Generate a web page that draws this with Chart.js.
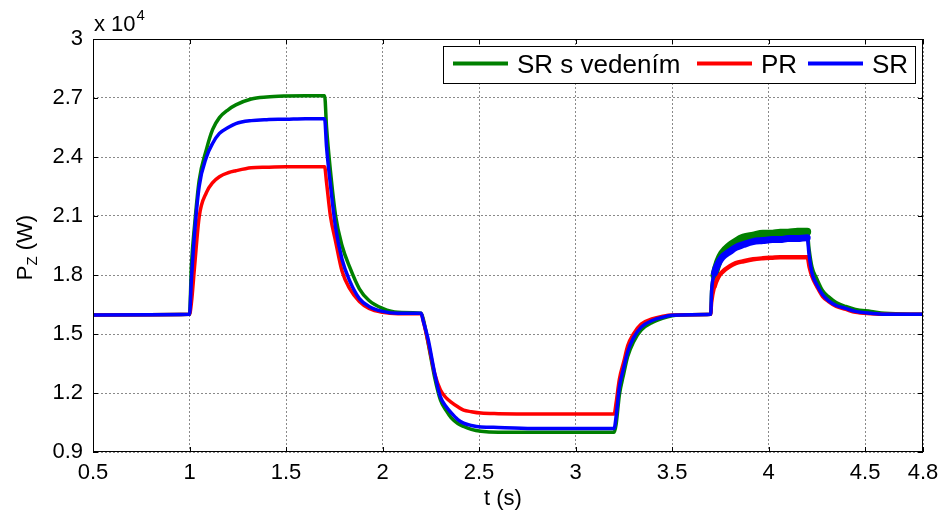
<!DOCTYPE html>
<html>
<head>
<meta charset="utf-8">
<script src="https://cdn.jsdelivr.net/npm/chart.js@4.4.1/dist/chart.umd.min.js"></script>
<style>
  html, body { margin: 0; padding: 0; background: #fff; }
  #wrap { width: 947px; height: 515px; }
</style>
</head>
<body>
<div id="wrap"><canvas id="graf" width="947" height="515"></canvas></div>
<script>
// cas (s) a vykon P_Z v jednotkach x 10^4 W
const cas = [0.5, 1.0, 1.01, 1.026, 1.05, 1.088, 1.12, 1.155, 1.2, 1.24, 1.32, 1.4, 1.5, 1.6, 1.7,
  1.71, 1.73, 1.757, 1.79, 1.83, 1.88, 1.93, 2.0, 2.08, 2.2,
  2.21, 2.237, 2.27, 2.30, 2.33, 2.355, 2.39, 2.42, 2.46, 2.51, 2.6, 2.8, 3.0, 3.2,
  3.21, 3.227, 3.25, 3.27, 3.3, 3.34, 3.4, 3.45, 3.5, 3.6, 3.7,
  3.705, 3.72, 3.74, 3.76, 3.8, 3.83, 3.87, 3.92, 3.97, 4.02, 4.06, 4.1, 4.15, 4.2,
  4.21, 4.225, 4.25, 4.28, 4.31, 4.35, 4.4, 4.45, 4.53, 4.6, 4.8];

const srVedeni = [1.597, 1.60, 1.85, 2.05, 2.28, 2.44, 2.54, 2.60, 2.64, 2.665, 2.695, 2.705, 2.71, 2.712, 2.712,
  2.55, 2.33, 2.10, 1.95, 1.84, 1.73, 1.67, 1.63, 1.61, 1.605,
  1.58, 1.45, 1.28, 1.165, 1.11, 1.075, 1.045, 1.03, 1.015, 1.005, 1.0, 1.0, 1.0, 1.0,
  1.04, 1.19, 1.30, 1.385, 1.46, 1.52, 1.56, 1.58, 1.593, 1.598, 1.60,
  1.72, 1.80, 1.87, 1.91, 1.95, 1.97, 1.99, 2.0, 2.01, 2.01, 2.015, 2.015, 2.02, 2.02,
  1.93, 1.84, 1.78, 1.72, 1.69, 1.66, 1.64, 1.625, 1.615, 1.605, 1.60];

const pr = [1.597, 1.60, 1.66, 1.84, 2.095, 2.22, 2.27, 2.30, 2.32, 2.33, 2.345, 2.348, 2.35, 2.35, 2.35,
  2.27, 2.10, 1.97, 1.82, 1.73, 1.665, 1.63, 1.61, 1.603, 1.603,
  1.57, 1.455, 1.30, 1.215, 1.175, 1.154, 1.13, 1.113, 1.105, 1.098, 1.095, 1.093, 1.093, 1.093,
  1.15, 1.27, 1.36, 1.44, 1.50, 1.55, 1.578, 1.59, 1.597, 1.598, 1.60,
  1.66, 1.74, 1.79, 1.815, 1.845, 1.86, 1.87, 1.88, 1.885, 1.888, 1.89, 1.89, 1.89, 1.89,
  1.84, 1.79, 1.74, 1.69, 1.665, 1.64, 1.625, 1.61, 1.603, 1.60, 1.60];

const sr = [1.597, 1.60, 1.78, 2.01, 2.25, 2.40, 2.47, 2.52, 2.55, 2.57, 2.585, 2.59, 2.592, 2.595, 2.595,
  2.45, 2.26, 2.04, 1.88, 1.77, 1.68, 1.64, 1.615, 1.605, 1.605,
  1.57, 1.47, 1.30, 1.18, 1.13, 1.10, 1.065, 1.047, 1.035, 1.027, 1.025, 1.02, 1.02, 1.02,
  1.08, 1.23, 1.33, 1.41, 1.48, 1.535, 1.57, 1.585, 1.595, 1.598, 1.60,
  1.72, 1.81, 1.86, 1.89, 1.92, 1.94, 1.955, 1.97, 1.975, 1.98, 1.98, 1.985, 1.985, 1.99,
  1.90, 1.81, 1.75, 1.70, 1.67, 1.645, 1.63, 1.615, 1.605, 1.60, 1.60];

const xTicky = [0.5, 1, 1.5, 2, 2.5, 3, 3.5, 4, 4.5, 4.8];
const yTicky = [0.9, 1.2, 1.5, 1.8, 2.1, 2.4, 2.7, 3];

const nazvy = ['SR s vedením', 'PR', 'SR'];
const barvy = ['#008000', '#ff0000', '#0000ff'];

const pismo = 'Arial, "Liberation Sans", sans-serif';

const body = arr => arr.map((v, i) => ({ x: cas[i], y: v }));

// zasumeny usek 3.7 - 4.2 s je v originale sirsi pas
const sirka = (normal, sum) => ctx =>
  (ctx.p0.parsed.x >= 3.72 && ctx.p1.parsed.x <= 4.2) ? sum : normal;

// ramecek, znacky os, popisky a legenda ve stylu matlabu
const matlabStyl = {
  id: 'matlabStyl',
  afterDraw(chart) {
    const { ctx, chartArea: a, scales } = chart;
    ctx.save();
    ctx.strokeStyle = '#000';
    ctx.lineWidth = 1;
    ctx.setLineDash([]);
    ctx.strokeRect(a.left + 0.5, a.top + 0.5, a.right - a.left - 1, a.bottom - a.top - 1);

    // znacky dovnitr
    ctx.beginPath();
    xTicky.forEach(t => {
      const x = Math.round(scales.x.getPixelForValue(t)) + 0.5;
      ctx.moveTo(x, a.bottom); ctx.lineTo(x, a.bottom - 5);
      ctx.moveTo(x, a.top); ctx.lineTo(x, a.top + 5);
    });
    yTicky.forEach(t => {
      const y = Math.round(scales.y.getPixelForValue(t)) + 0.5;
      ctx.moveTo(a.left, y); ctx.lineTo(a.left + 5, y);
      ctx.moveTo(a.right, y); ctx.lineTo(a.right - 5, y);
    });
    ctx.stroke();

    // x 10^4
    ctx.fillStyle = '#000';
    ctx.textBaseline = 'alphabetic';
    ctx.textAlign = 'left';
    ctx.font = '22px ' + pismo;
    ctx.fillText('x 10', a.left + 1, a.top - 8);
    const w = ctx.measureText('x 10').width;
    ctx.font = '15px ' + pismo;
    ctx.fillText('4', a.left + 1 + w + 1, a.top - 19);

    // popisek osy x
    ctx.font = '22px ' + pismo;
    ctx.textAlign = 'center';
    ctx.textBaseline = 'middle';
    ctx.fillText('t (s)', 503, 499);

    // popisek osy y (otoceny, s indexem)
    ctx.save();
    ctx.translate(26, (a.top + a.bottom) / 2 + 2);
    ctx.rotate(-Math.PI / 2);
    ctx.textAlign = 'left';
    ctx.textBaseline = 'middle';
    ctx.font = '22px ' + pismo;
    const wP = ctx.measureText('P').width;
    ctx.font = '15px ' + pismo;
    const wZ = ctx.measureText('Z').width;
    ctx.font = '22px ' + pismo;
    const wW = ctx.measureText(' (W)').width;
    const x0 = -(wP + wZ + wW) / 2;
    ctx.fillText('P', x0, 0);
    ctx.font = '15px ' + pismo;
    ctx.fillText('Z', x0 + wP, 7);
    ctx.font = '22px ' + pismo;
    ctx.fillText(' (W)', x0 + wP + wZ, 0);
    ctx.restore();

    // legenda
    const lx = a.right - 8 - 472, ly = a.top + 7, lw = 472, lh = 37;
    ctx.fillStyle = '#fff';
    ctx.fillRect(lx, ly, lw, lh);
    ctx.strokeStyle = '#000';
    ctx.lineWidth = 1;
    ctx.strokeRect(lx + 0.5, ly + 0.5, lw, lh);
    ctx.font = '26px ' + pismo;
    ctx.textAlign = 'left';
    ctx.textBaseline = 'middle';
    const startX = [lx + 10, lx + 254, lx + 365];
    const cy = ly + lh / 2 + 1;
    nazvy.forEach((n, i) => {
      ctx.strokeStyle = barvy[i];
      ctx.lineWidth = 4;
      ctx.beginPath();
      ctx.moveTo(startX[i], cy - 2);
      ctx.lineTo(startX[i] + 55, cy - 2);
      ctx.stroke();
      ctx.fillStyle = '#000';
      ctx.fillText(n, startX[i] + 64, cy);
    });
    ctx.restore();
  }
};

new Chart(document.getElementById('graf'), {
  type: 'line',
  data: {
    datasets: [
      { label: nazvy[0], data: body(srVedeni), borderColor: barvy[0], order: 2,
        segment: { borderWidth: sirka(3.5, 8) } },
      { label: nazvy[1], data: body(pr), borderColor: barvy[1], order: 1,
        segment: { borderWidth: sirka(3.5, 4.5) } },
      { label: nazvy[2], data: body(sr), borderColor: barvy[2], order: 0,
        segment: { borderWidth: sirka(3.5, 7) } }
    ]
  },
  options: {
    responsive: false,
    animation: false,
    devicePixelRatio: 1,
    layout: { padding: { top: 39, right: 24, left: 0, bottom: 0 } },
    elements: {
      point: { radius: 0 },
      line: { borderWidth: 3.5, cubicInterpolationMode: 'monotone', borderCapStyle: 'round', borderJoinStyle: 'round' }
    },
    plugins: { legend: { display: false }, tooltip: { enabled: false } },
    scales: {
      x: {
        type: 'linear',
        min: 0.5, max: 4.8,
        afterBuildTicks: s => { s.ticks = xTicky.map(v => ({ value: v })); },
        afterFit: s => { s.height = 63; },
        grid: { color: '#8a8a8a', lineWidth: 1, drawTicks: false },
        border: { display: false, dash: [2, 2] },
        ticks: {
          color: '#000', padding: 8, maxRotation: 0, autoSkip: false,
          font: { size: 22, family: pismo },
          callback: v => String(v)
        }
      },
      y: {
        type: 'linear',
        min: 0.9, max: 3,
        afterBuildTicks: s => { s.ticks = yTicky.map(v => ({ value: v })); },
        afterFit: s => { s.width = 93; },
        grid: { color: '#8a8a8a', lineWidth: 1, drawTicks: false },
        border: { display: false, dash: [2, 2] },
        ticks: {
          color: '#000', padding: 10,
          font: { size: 22, family: pismo },
          callback: v => String(v)
        }
      }
    }
  },
  plugins: [matlabStyl]
});
</script>
</body>
</html>
